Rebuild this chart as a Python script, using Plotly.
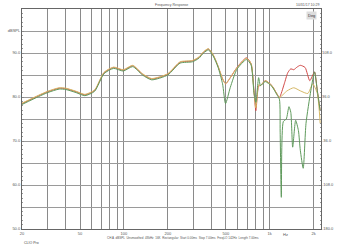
import plotly.graph_objects as go

# ---------------- data ----------------
freq_common = [20, 26, 30, 36, 40, 47, 54, 63, 73, 85, 99, 115, 134, 155, 200, 243, 295, 327,
               352, 380, 410, 442, 475, 498, 537, 596, 692, 745, 780, 804, 840, 865, 933,
               1035, 1117, 1166]
green_common = [78.3, 80.1, 81.0, 81.8, 81.7, 81.0, 80.3, 81.3, 85.3, 86.5, 85.9, 86.9, 85.0,
                83.9, 85.0, 87.7, 88.0, 88.8, 90.0, 90.7, 89.3, 86.8, 83.0, 78.5, 82.2, 86.3,
                88.5, 87.3, 81.0, 78.8, 84.4, 82.6, 83.5, 82.4, 80.6, 79.5]
tan_common = [78.6, 80.4, 81.3, 82.1, 82.0, 81.3, 80.6, 81.6, 85.6, 86.8, 86.2, 87.2, 85.3,
              84.2, 85.3, 88.0, 88.3, 89.1, 90.3, 91.0, 89.6, 87.1, 84.2, 83.0, 84.4, 86.6,
              88.8, 87.6, 81.4, 77.5, 82.8, 82.6, 83.7, 82.6, 80.8, 79.9]
red_common = [78.5, 80.3, 81.2, 82.0, 81.9, 81.2, 80.5, 81.5, 85.5, 86.7, 86.1, 87.1, 85.2,
              84.1, 85.2, 87.9, 88.2, 89.0, 90.2, 90.9, 89.5, 87.0, 84.1, 83.0, 84.4, 86.7,
              88.9, 87.6, 81.4, 76.9, 82.5, 82.6, 83.7, 82.6, 80.8, 79.9]

freq_red_hi = [1259, 1330, 1396, 1462, 1540, 1622, 1750, 1884, 2030, 2122, 2220]
red_hi = [83.0, 85.5, 86.4, 86.2, 86.8, 87.2, 86.7, 83.7, 85.7, 81.4, 76.9]

freq_tan_hi = [1316, 1462, 1622, 1828, 1972, 2122, 2220]
tan_hi = [81.4, 82.1, 81.4, 80.8, 83.0, 80.8, 74.0]

freq_green_hi = [1180, 1202, 1240, 1300, 1356, 1396, 1438, 1507, 1574, 1622, 1698, 1775,
                 1914, 2030, 2122, 2220]
green_hi = [72.0, 57.2, 74.4, 75.0, 77.8, 76.5, 68.6, 74.7, 72.4, 67.9, 63.8, 74.0,
            81.4, 85.7, 81.4, 76.9]

# axis ticks
x_grid = [20, 30, 40, 50, 60, 70, 80, 90, 100, 200, 300, 400, 500, 600, 700, 800, 900, 1000, 2000]
x_labels = {20: "20", 50: "50", 100: "100", 200: "200", 500: "500", 1000: "1k", 2000: "2k"}
y_grid = [100, 95, 90, 85, 80, 75, 70, 65, 60, 55, 50]
y_labels = {95: "dBSPL", 90: "90.0", 80: "80.0", 70: "70.0", 60: "60.0", 50: "50.0"}
y2_grid = [180, 108, 36, -36, -108, -180]
y2_labels = ["", "108.0", "36.0", "-36.0", "-108.0", "-180.0"]

title_text = "Frequency Response"
date_text = "10/31/17 10:29"
footer_text = ("CH A  dBSPL  Unsmoothed  48kHz  16K  Rectangular  Start 0.00ms  "
               "Stop 7.00ms  FreqLO 142Hz  Length 7.00ms")
corner_text = "CLIO Pro"

RED = "#d24a48"
TAN = "#d6b866"
GREEN = "#5f9a5c"

fig = go.Figure()
fig.add_trace(go.Scatter(x=freq_common + freq_red_hi, y=red_common + red_hi, mode="lines",
                         line=dict(color=RED, width=1, shape="spline", smoothing=0.6)))
fig.add_trace(go.Scatter(x=freq_common + freq_tan_hi, y=tan_common + tan_hi, mode="lines",
                         line=dict(color=TAN, width=1, shape="spline", smoothing=0.6)))
fig.add_trace(go.Scatter(x=freq_common + freq_green_hi, y=green_common + green_hi, mode="lines",
                         line=dict(color=GREEN, width=1, shape="spline", smoothing=0.6)))
# invisible trace to carry the right axis
fig.add_trace(go.Scatter(x=[20], y=[0], yaxis="y2", mode="markers",
                         marker=dict(opacity=0), hoverinfo="skip"))

font = dict(family="Liberation Sans, Arial", size=4, color="#555555")

fig.update_layout(
    width=342, height=246,
    margin=dict(l=13, r=13, t=8, b=17),
    paper_bgcolor="white", plot_bgcolor="white",
    showlegend=False,
    font=font,
    xaxis=dict(type="log", range=[1.30103, 3.352],
               tickvals=x_grid, ticktext=[x_labels.get(v, "") for v in x_grid],
               showgrid=True, gridcolor="#8a8a8a", gridwidth=1,
               showline=True, linecolor="#666666", mirror=True,
               ticks="", tickfont=font, zeroline=False),
    yaxis=dict(range=[50, 100], tickvals=y_grid,
               ticktext=[y_labels.get(v, "") for v in y_grid],
               showgrid=True, gridcolor="#9a9a9a", gridwidth=1,
               showline=True, linecolor="#666666", mirror=True,
               ticks="inside", ticklen=2, tickcolor="#888888",
               minor=dict(dtick=1, ticks="inside", ticklen=1, tickcolor="#999999"),
               tickfont=font, zeroline=False),
    yaxis2=dict(range=[-180, 180], overlaying="y", side="right",
                tickvals=y2_grid, ticktext=y2_labels, showgrid=False,
                ticks="inside", ticklen=2, tickcolor="#888888",
                minor=dict(dtick=7.2, ticks="inside", ticklen=1, tickcolor="#999999"),
                tickfont=font, zeroline=False),
    annotations=[
        dict(text=title_text, x=0.5, y=1, xref="paper", yref="paper", yanchor="bottom",
             showarrow=False, font=dict(size=3.5, color="#555555")),
        dict(text=date_text, x=1, y=1, xref="paper", yref="paper", xanchor="right",
             yanchor="bottom", showarrow=False, font=dict(size=3.5, color="#555555")),
        dict(text=footer_text, x=0.54, y=0, xref="paper", yref="paper", yanchor="top",
             showarrow=False, font=dict(size=3, color="#555555"), yshift=-5),
        dict(text=corner_text, x=0, y=0, xref="paper", yref="paper", xanchor="left",
             yanchor="top", showarrow=False, font=dict(size=3.5, color="#444444"), yshift=-10),
        dict(text="Hz", x=0.895, y=0, xref="paper", yref="paper", yanchor="top",
             showarrow=False, font=dict(size=4, color="#555555"), yshift=-1),
        dict(text="Deg", x=0.985, y=0.99, xref="paper", yref="paper", xanchor="right",
             yanchor="top", showarrow=False, font=dict(size=4, color="#333333"),
             bgcolor="#dddddd"),
    ],
)

fig.write_html("out.html")
